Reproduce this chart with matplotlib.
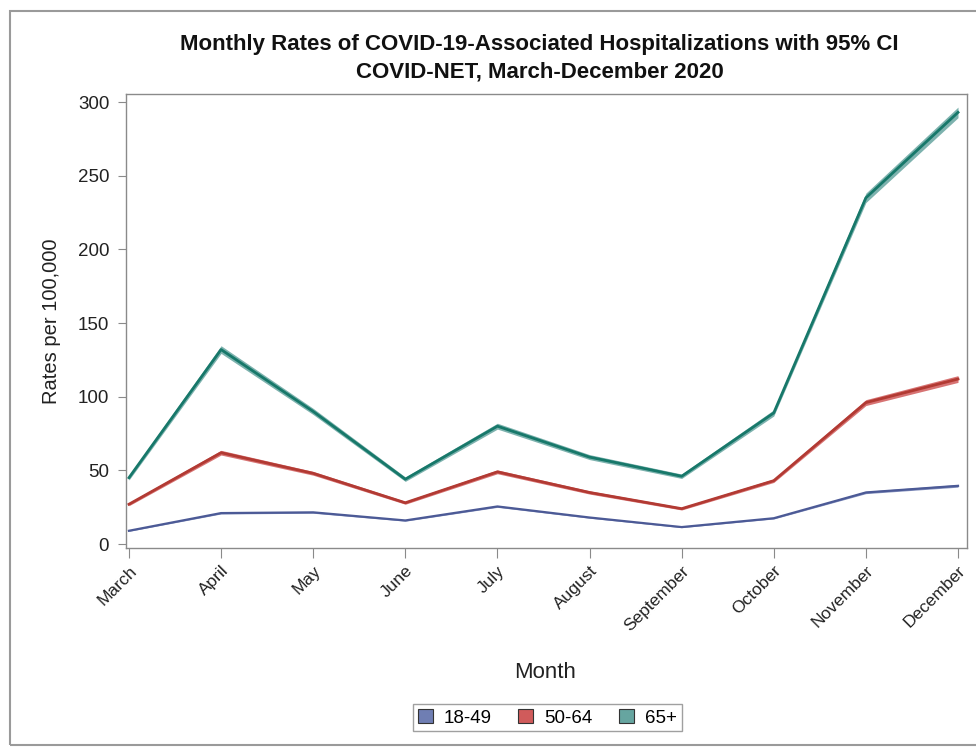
import matplotlib
matplotlib.use("Agg")
import matplotlib.pyplot as plt
from matplotlib.patches import Rectangle, Patch
import numpy as np

months = ["March", "April", "May", "June", "July", "August",
          "September", "October", "November", "December"]
groups = ["18-49", "50-64", "65+"]

rate_18_49 = [9, 21, 21.5, 16, 25.5, 18, 11.5, 17.5, 35, 39.5]
rate_50_64 = [27, 62, 48, 28, 49, 35, 24, 43, 96, 112]
rate_65_up = [45, 132, 90, 44, 80, 59, 46, 89, 235, 293]

ci_18_49 = [0.4, 0.6, 0.6, 0.5, 0.6, 0.5, 0.4, 0.5, 0.8, 0.9]
ci_50_64 = [1.0, 1.6, 1.3, 1.0, 1.3, 1.1, 0.9, 1.2, 2.0, 2.3]
ci_65_up = [1.6, 2.6, 2.1, 1.5, 2.0, 1.7, 1.5, 2.1, 3.2, 3.6]

line_colors = ["#4c5a96", "#b23a33", "#17786a"]
fill_colors = ["#6F7EB3", "#D05B5B", "#66A5A0"]
line_widths = [1.6, 2.0, 2.0]

plt.rcParams["font.family"] = ["Liberation Sans", "DejaVu Sans"]

fig = plt.figure(figsize=(9.76, 7.47), dpi=100)
fig.patch.set_facecolor("white")
# outer frame around the graph
fig.patches.append(Rectangle((10 / 976, 2 / 747), 1.2, 734 / 747,
                             transform=fig.transFigure, fill=False,
                             edgecolor="#9a9a9a", linewidth=1.5))

ax = fig.add_axes([0.129, 0.2664, 0.862, 0.6076])
x = np.arange(len(months))

series = [(rate_18_49, ci_18_49), (rate_50_64, ci_50_64), (rate_65_up, ci_65_up)]
for (vals, ci), lc, fc, lw in zip(series, line_colors, fill_colors, line_widths):
    v = np.array(vals, dtype=float)
    c = np.array(ci, dtype=float)
    ax.fill_between(x, v - c, v + c, color=fc, alpha=0.85, linewidth=0)
    ax.plot(x, v, color=lc, linewidth=lw)

ax.set_xlim(-0.033, 9.1)
ax.set_ylim(-2.7, 305.4)
ax.set_yticks([0, 50, 100, 150, 200, 250, 300])
ax.set_xticks(x)
ax.set_xticklabels(months, rotation=45, ha="right", rotation_mode="anchor",
                   fontsize=12.5, color="#222222")
for lab in ax.get_yticklabels():
    lab.set_fontsize(13.5)
    lab.set_color("#222222")

for s in ax.spines.values():
    s.set_color("#8a8a8a")
    s.set_linewidth(1.0)
ax.tick_params(axis="y", length=6, color="#8a8a8a", pad=6)
ax.tick_params(axis="x", length=7, color="#8a8a8a", pad=4)

ax.set_ylabel("Rates per 100,000", fontsize=14.5, color="#222222", labelpad=12)
fig.text(0.558, 0.100, "Month", ha="center", va="center", fontsize=16,
         color="#222222")

fig.text(0.553, 0.940, "Monthly Rates of COVID-19-Associated Hospitalizations with 95% CI",
         ha="center", va="center", fontsize=16, fontweight="bold", color="#111111")
fig.text(0.553, 0.904, "COVID-NET, March-December 2020",
         ha="center", va="center", fontsize=16, fontweight="bold", color="#111111")

handles = [Patch(facecolor=fc, edgecolor="#333333", linewidth=0.8, label=g)
           for g, fc in zip(groups, fill_colors)]
leg = fig.legend(handles=handles, loc="center", bbox_to_anchor=(0.561, 0.039),
                 ncol=3, frameon=True, fancybox=False, fontsize=13.5,
                 handlelength=0.8, handleheight=0.8, handletextpad=0.6,
                 columnspacing=1.4, borderpad=0.25)
leg.get_frame().set_edgecolor("#888888")
leg.get_frame().set_linewidth(1.0)

fig.savefig("out.png", dpi=100, facecolor="white")
